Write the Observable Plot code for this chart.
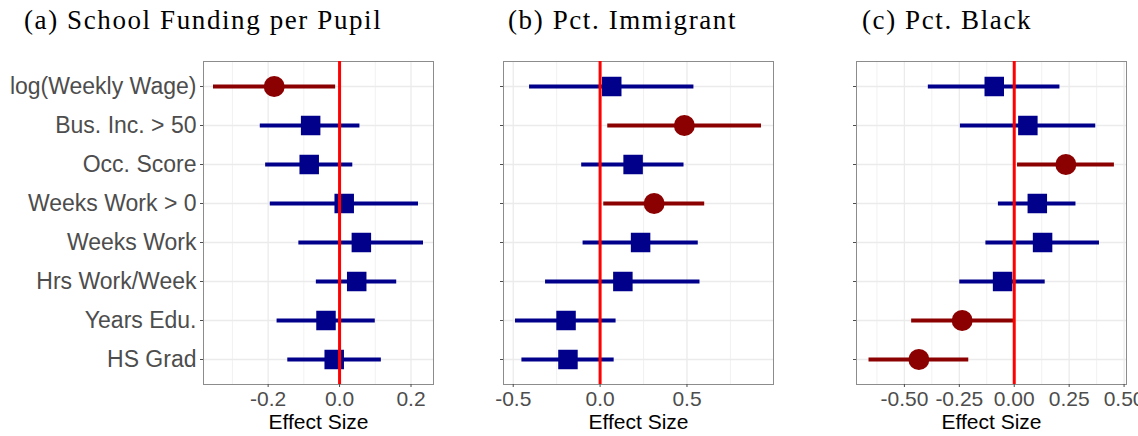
<!DOCTYPE html>
<html>
<head>
<meta charset="utf-8">
<script src="https://cdn.jsdelivr.net/npm/d3@7"></script>
<script src="https://cdn.jsdelivr.net/npm/@observablehq/plot@0.6"></script>
<style>
  html, body { margin: 0; padding: 0; background: white; }
  #wrap { position: relative; width: 1138px; height: 436px; overflow: hidden; background: white; }
  .panel { position: absolute; top: 0; }
  .title { position: absolute; top: 5px; font-family: "Liberation Serif", serif; font-size: 27px; line-height: 30px; letter-spacing: 1.6px; color: #000; white-space: nowrap; }
</style>
</head>
<body>
<div id="wrap"></div>
<script>
// ---- data ----
const terms = ["log(Weekly Wage)", "Bus. Inc. > 50", "Occ. Score", "Weeks Work > 0", "Weeks Work", "Hrs Work/Week", "Years Edu.", "HS Grad"];

const titles = ["(a) School Funding per Pupil", "(b) Pct. Immigrant", "(c) Pct. Black"];

// Panel (a) School Funding per Pupil
const estA = [-0.183, -0.081, -0.085, 0.013, 0.061, 0.048, -0.038, -0.015];
const loA  = [-0.353, -0.222, -0.207, -0.194, -0.114, -0.065, -0.175, -0.145];
const hiA  = [-0.011, 0.057, 0.037, 0.221, 0.235, 0.160, 0.100, 0.117];
const sigA = [true, false, false, false, false, false, false, false];

// Panel (b) Pct. Immigrant
const estB = [0.067, 0.485, 0.190, 0.311, 0.233, 0.131, -0.196, -0.185];
const loB  = [-0.406, 0.044, -0.106, 0.021, -0.098, -0.314, -0.487, -0.450];
const hiB  = [0.540, 0.929, 0.483, 0.602, 0.565, 0.575, 0.092, 0.081];
const sigB = [false, true, false, true, false, false, false, false];

// Panel (c) Pct. Black
const estC = [-0.091, 0.062, 0.235, 0.105, 0.129, -0.053, -0.237, -0.434];
const loC  = [-0.391, -0.245, 0.015, -0.072, -0.129, -0.248, -0.467, -0.661];
const hiC  = [0.208, 0.371, 0.456, 0.281, 0.388, 0.141, -0.003, -0.207];
const sigC = [false, false, true, false, false, false, true, true];

// axis ticks
const ticksA = [-0.2, 0, 0.2];
const tickLabelsA = ["-0.2", "0.0", "0.2"];
const minorA = [-0.3, -0.1, 0.1];
const ticksB = [-0.5, 0, 0.5];
const tickLabelsB = ["-0.5", "0.0", "0.5"];
const minorB = [-0.25, 0.25, 0.75];
const ticksC = [-0.5, -0.25, 0, 0.25, 0.5];
const tickLabelsC = ["-0.50", "-0.25", "0.00", "0.25", "0.50"];
const minorC = [-0.625, -0.375, -0.125, 0.125, 0.375];

const domainA = [-0.381, 0.263];
const domainB = [-0.556, 0.998];
const domainC = [-0.718, 0.511];

// ---- layout ----
const BLUE = "#00008B", DARKRED = "#8B0000", GRID = "#EBEBEB";
const H = 436, TOP = 61, BOTTOM = 52;
const panels = [
  {est: estA, lo: loA, hi: hiA, sig: sigA, ticks: ticksA, labels: tickLabelsA, minor: minorA, domain: domainA,
   left: 0, width: 450, ml: 203, mr: 17, ylabels: true, titleX: 24},
  {est: estB, lo: loB, hi: hiB, sig: sigB, ticks: ticksB, labels: tickLabelsB, minor: minorB, domain: domainB,
   left: 450, width: 340, ml: 53, mr: 17, ylabels: false, titleX: 508},
  {est: estC, lo: loC, hi: hiC, sig: sigC, ticks: ticksC, labels: tickLabelsC, minor: minorC, domain: domainC,
   left: 790, width: 348, ml: 66, mr: 12, ylabels: false, titleX: 862}
];

const wrap = document.getElementById("wrap");

panels.forEach((p, k) => {
  const data = terms.map((t, i) => ({term: t, est: p.est[i], lo: p.lo[i], hi: p.hi[i], sig: p.sig[i]}));
  const labelMap = new Map(p.ticks.map((t, i) => [t, p.labels[i]]));
  const chart = Plot.plot({
    width: p.width,
    height: H,
    marginLeft: p.ml,
    marginRight: p.mr,
    marginTop: TOP,
    marginBottom: BOTTOM,
    style: {background: "transparent", fontFamily: "Liberation Sans, Arial, sans-serif", overflow: "visible"},
    x: {domain: p.domain},
    y: {type: "point", domain: terms, padding: 0.6},
    marks: [
      Plot.gridX(p.minor, {stroke: GRID, strokeOpacity: 1, strokeWidth: 0.7}),
      Plot.gridX(p.ticks, {stroke: GRID, strokeOpacity: 1, strokeWidth: 1.3}),
      Plot.gridY(terms, {stroke: GRID, strokeOpacity: 1, strokeWidth: 1.3}),
      Plot.frame({stroke: "#8c8c8c", strokeWidth: 1}),
      Plot.ruleY(data, {y: "term", x1: "lo", x2: "hi", stroke: d => d.sig ? DARKRED : BLUE, strokeWidth: 4}),
      Plot.dot(data.filter(d => !d.sig), {x: "est", y: "term", symbol: "square", r: 11, fill: BLUE}),
      Plot.dot(data.filter(d => d.sig), {x: "est", y: "term", symbol: "circle", r: 10.5, fill: DARKRED}),
      Plot.ruleX([0], {stroke: "#FF0000", strokeWidth: 3}),
      Plot.axisX(p.ticks, {tickSize: 3, tickPadding: 4, fontSize: 21, color: "#4D4D4D",
        tickFormat: d => labelMap.get(d), label: null}),
      Plot.axisY(terms, {tickSize: 3, tickPadding: 4, fontSize: 23, color: "#4D4D4D",
        tickFormat: p.ylabels ? (d => d) : (() => ""), label: null}),
      Plot.text(["Effect Size"], {frameAnchor: "bottom", dy: 44, lineAnchor: "bottom", fontSize: 21, fill: "#000"})
    ]
  });
  const div = document.createElement("div");
  div.className = "panel";
  div.style.left = p.left + "px";
  div.appendChild(chart);
  wrap.appendChild(div);

  const t = document.createElement("div");
  t.className = "title";
  t.style.left = p.titleX + "px";
  t.textContent = titles[k];
  wrap.appendChild(t);
});
</script>
</body>
</html>
